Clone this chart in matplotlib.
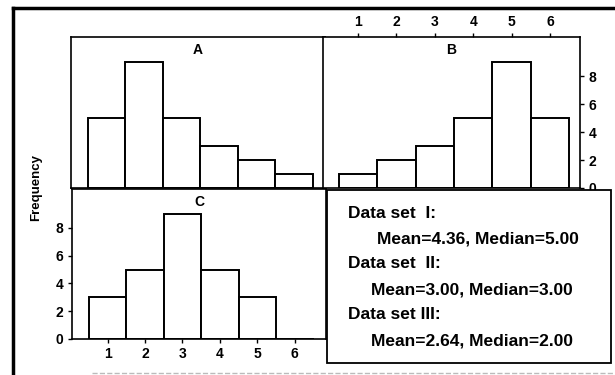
import matplotlib
matplotlib.use('Agg')
import matplotlib.pyplot as plt
from matplotlib.patches import Rectangle
from matplotlib.lines import Line2D

plt.rcParams['font.family'] = ['Liberation Sans', 'DejaVu Sans']
plt.rcParams['font.weight'] = 'bold'

# values
bins = [1, 2, 3, 4, 5, 6]
freq_a = [5, 9, 5, 3, 2, 1]
freq_b = [1, 2, 3, 5, 9, 5]
freq_c = [3, 5, 9, 5, 3, 0]
yticks = [0, 2, 4, 6, 8]
summary = [
    ("Data set  I:", "Mean=4.36, Median=5.00"),
    ("Data set  II:", "Mean=3.00, Median=3.00"),
    ("Data set III:", "Mean=2.64, Median=2.00"),
]

fig = plt.figure(figsize=(6.15, 3.75), dpi=100)

ax_a = fig.add_axes([0.1155, 0.4987, 0.4130, 0.4027])
ax_b = fig.add_axes([0.5252, 0.4987, 0.4179, 0.4027])
ax_c = fig.add_axes([0.1170, 0.0960, 0.4130, 0.4000])

def hist(ax, vals, title):
    ax.bar(bins, vals, width=1.0, color='white', edgecolor='black', linewidth=1.4)
    ax.set_ylim(0, 10.8)
    ax.set_xlim(0.05, 6.83)
    ax.text(0.5, 0.96, title, transform=ax.transAxes, ha='center', va='top',
            fontsize=10, fontweight='bold')
    for s in ax.spines.values():
        s.set_linewidth(1.2)
    ax.tick_params(length=3, width=1, labelsize=10, pad=3)

hist(ax_a, freq_a, 'A')
ax_a.set_xticks([])
ax_a.set_yticks([])

hist(ax_b, freq_b, 'B')
ax_b.set_xlim(0.09, 6.78)
ax_b.set_xticks(bins)
ax_b.set_yticks(yticks)
ax_b.xaxis.tick_top()
ax_b.yaxis.tick_right()

hist(ax_c, freq_c, 'C')
ax_c.set_xticks(bins)
ax_c.set_yticks(yticks)

for ax in (ax_b, ax_c):
    for lab in ax.get_xticklabels() + ax.get_yticklabels():
        lab.set_fontweight('bold')

fig.text(0.058, 0.5, 'Frequency', rotation=90, ha='center', va='center',
         fontsize=9.5, fontweight='bold')

# summary box
fig.patches.append(Rectangle((0.5317, 0.032), 0.4618, 0.461, transform=fig.transFigure,
                             facecolor='white', edgecolor='black', linewidth=1.3, zorder=5))
y = 0.432
for i, (head, line) in enumerate(summary):
    fig.text(0.566, y, head, fontsize=12.5, va='center', zorder=6)
    fig.text(0.613 if i == 0 else 0.603, y - 0.07, line, fontsize=12.5, va='center', zorder=6)
    y -= 0.135

# outer frame lines
fig.lines.append(Line2D([0.021, 0.021], [0.0, 0.979], transform=fig.transFigure,
                        color='black', linewidth=2.5))
fig.lines.append(Line2D([0.021, 1.0], [0.979, 0.979], transform=fig.transFigure,
                        color='black', linewidth=2.5))
fig.lines.append(Line2D([0.15, 1.0], [0.006, 0.006], transform=fig.transFigure,
                        color='#bbbbbb', linewidth=1, linestyle='--'))

fig.savefig('out.png', dpi=100)
